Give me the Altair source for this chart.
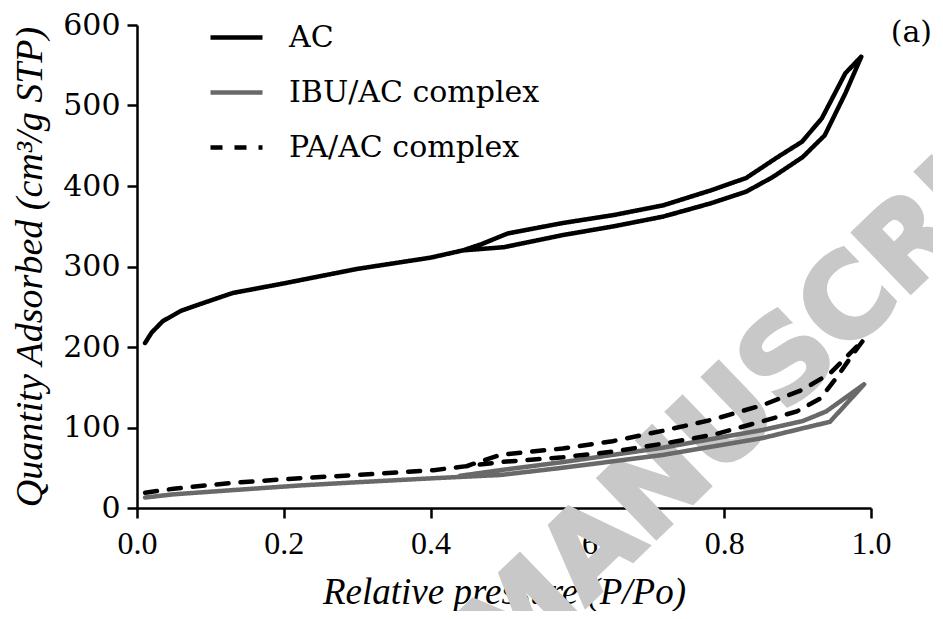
import altair as alt
import pandas as pd

# ---- data (x = relative pressure, y = cm3/g STP) ----
series_names = ["AC", "IBU/AC complex", "PA/AC complex"]

ac_ads_x = [0.011, 0.02, 0.035, 0.06, 0.085, 0.13, 0.2, 0.3, 0.4, 0.444, 0.5, 0.58, 0.65, 0.717, 0.78, 0.83, 0.866, 0.907, 0.937, 0.965, 0.987]
ac_ads_y = [205, 218, 232, 245, 253, 267, 279, 297, 311, 320, 324, 339, 350, 362, 378, 393, 411, 436, 463, 515, 561]
ac_des_x = [0.987, 0.965, 0.933, 0.906, 0.873, 0.83, 0.78, 0.717, 0.65, 0.58, 0.505, 0.47, 0.444]
ac_des_y = [561, 540, 484, 455, 436, 410, 394, 376, 364, 354, 341, 328, 320]

ibu_ads_x = [0.011, 0.05, 0.127, 0.222, 0.3, 0.404, 0.495, 0.58, 0.717, 0.853, 0.907, 0.944, 0.991]
ibu_ads_y = [13, 17, 22, 28, 32, 37, 41, 50, 66, 87, 99, 107, 154]
ibu_des_x = [0.991, 0.939, 0.907, 0.853, 0.717, 0.58, 0.495, 0.44]
ibu_des_y = [154, 120, 108, 97, 75, 57, 47, 40]

pa_ads_x = [0.011, 0.05, 0.127, 0.222, 0.3, 0.404, 0.449, 0.495, 0.58, 0.648, 0.717, 0.785, 0.853, 0.899, 0.931, 0.954, 0.976, 0.99]
pa_ads_y = [19, 24, 31, 37, 41, 47, 52, 57, 63, 70, 80, 91, 108, 120, 136, 163, 192, 209]
pa_des_x = [0.99, 0.967, 0.944, 0.907, 0.853, 0.785, 0.717, 0.648, 0.58, 0.495, 0.449]
pa_des_y = [209, 188, 167, 147, 128, 110, 96, 83, 74, 66, 52]

x_ticks = [0.0, 0.2, 0.4, 0.6, 0.8, 1.0]
y_ticks = [0, 100, 200, 300, 400, 500, 600]

watermark = "MANUSCRIPT"
panel_label = "(a)"

# ---- build the table (adsorption branch followed by desorption branch) ----
rows = []
branches = {
    "IBU/AC complex": (ibu_ads_x + ibu_des_x, ibu_ads_y + ibu_des_y),
    "PA/AC complex": (pa_ads_x + pa_des_x, pa_ads_y + pa_des_y),
    "AC": (ac_ads_x + ac_des_x, ac_ads_y + ac_des_y),
}
for name, (xs, ys) in branches.items():
    for i, (xv, yv) in enumerate(zip(xs, ys)):
        rows.append({"series": name, "p": xv, "q": yv, "idx": i})
df = pd.DataFrame(rows)

W, H = 734, 483

legend = alt.Legend(
    title=None, orient="none", legendX=71, legendY=-16,
    symbolType="stroke", symbolSize=2704, symbolStrokeWidth=4.5,
    labelFont="DejaVu Serif", labelFontSize=30, labelColor="black",
    labelOffset=24, rowPadding=11, labelLimit=500, padding=0,
)

lines = alt.Chart(df).mark_line(strokeWidth=4.5, strokeCap="round", strokeJoin="miter").encode(
    x=alt.X("p:Q", scale=alt.Scale(domain=[0, 1], nice=False, zero=False),
            axis=alt.Axis(values=x_ticks, format=".1f", title="Relative pressure (P/Po)", labelFlush=False,
                          labelFont="Liberation Serif", labelFontSize=32, labelPadding=10,
                          titleFont="Liberation Serif", titleFontStyle="italic", titleFontWeight="normal",
                          titleFontSize=37, titlePadding=15)),
    y=alt.Y("q:Q", scale=alt.Scale(domain=[0, 600], nice=False),
            axis=alt.Axis(values=y_ticks, title="Quantity Adsorbed (cm³/g STP)", labelFlush=False,
                          labelFont="DejaVu Serif", labelFontSize=30, labelPadding=7,
                          titleFont="Liberation Serif", titleFontStyle="italic", titleFontWeight="normal",
                          titleFontSize=38, titlePadding=13)),
    color=alt.Color("series:N", scale=alt.Scale(domain=series_names, range=["#000000", "#696969", "#000000"]),
                    legend=legend),
    strokeDash=alt.StrokeDash("series:N", scale=alt.Scale(domain=series_names, range=[[1, 0], [1, 0], [12, 12]]),
                              legend=legend),
    detail="series:N",
    order="idx:Q",
)

wm = alt.Chart(pd.DataFrame({"t": [watermark]})).mark_text(
    angle=316, align="left", baseline="middle", font="DejaVu Sans", fontWeight="bold",
    fontSize=114, color="#c8c8c8", stroke="#c8c8c8", strokeWidth=4
).encode(text="t:N", x=alt.value(343), y=alt.value(636))

lab = alt.Chart(pd.DataFrame({"t": [panel_label]})).mark_text(
    align="right", baseline="middle", font="DejaVu Serif", fontSize=30, color="black"
).encode(text="t:N", x=alt.value(W + 61), y=alt.value(8))

chart = alt.layer(wm, lines, lab).properties(
    width=W, height=H,
    autosize=alt.AutoSizeParams(type="none"),
    padding={"left": 129, "top": 17, "right": 62, "bottom": 103},
).configure_view(stroke=None).configure_axis(
    grid=False, domainColor="black", domainWidth=2.5, tickColor="black", tickWidth=2.5,
    tickSize=10, labelColor="black", titleColor="black",
)

chart.save("out.html", embed_options={"renderer": "svg", "actions": False})
